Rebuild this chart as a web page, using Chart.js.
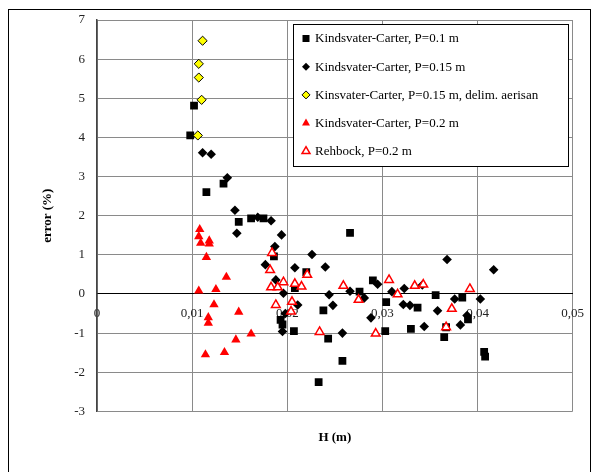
<!DOCTYPE html>
<html>
<head>
<meta charset="utf-8">
<title>error (%) vs H (m)</title>
<script src="https://cdn.jsdelivr.net/npm/chart.js@4/dist/chart.umd.min.js"></script>
<style>
  html, body { margin: 0; padding: 0; background: #fff; }
  canvas { display: block; }
</style>
</head>
<body>
<canvas id="c" width="596" height="472" style="width:596px;height:472px"></canvas>
<script>
// Head over the weir H (m) and the relative discharge error (%) for each data set.
const seriesLabels = [
  'Kindsvater-Carter, P=0.1 m',
  'Kindsvater-Carter, P=0.15 m',
  'Kinsvater-Carter, P=0.15 m, delim. aerisan',
  'Kindsvater-Carter, P=0.2 m',
  'Rehbock, P=0.2 m'
];

const kc010H = [0.0098, 0.0102, 0.0115, 0.0133, 0.0149, 0.0162, 0.0175, 0.0186, 0.0193, 0.0195,
  0.0207, 0.0208, 0.0220, 0.0233, 0.0238, 0.0243, 0.0258, 0.0266, 0.0276, 0.0290,
  0.0303, 0.0304, 0.0330, 0.0337, 0.0356, 0.0365, 0.0367, 0.0384, 0.0390, 0.0407, 0.0408];
const kc010Err = [4.05, 4.81, 2.60, 2.82, 1.84, 1.93, 1.93, 0.96, -0.66, -0.78,
  -0.95, 0.15, 0.56, -2.25, -0.42, -1.14, -1.71, 1.56, 0.06, 0.35,
  -0.95, -0.21, -0.89, -0.35, -0.03, -1.10, -0.85, -0.09, -0.65, -1.48, -1.60];

const kc015H = [0.0111, 0.0120, 0.0137, 0.0145, 0.0147, 0.0169, 0.0183, 0.0194, 0.0187, 0.0177,
  0.0188, 0.0196, 0.0198, 0.0195, 0.0208, 0.0211, 0.0226, 0.0240, 0.0244, 0.0248,
  0.0258, 0.0266, 0.0281, 0.0288, 0.0295, 0.0310, 0.0322, 0.0323, 0.0329, 0.0342,
  0.0344, 0.0358, 0.0368, 0.0376, 0.0382, 0.0389, 0.0403, 0.0417];
const kc015Err = [3.61, 3.57, 2.97, 2.14, 1.55, 1.96, 1.87, 1.51, 1.21, 0.75,
  0.36, 0.02, -0.50, -0.96, 0.67, -0.28, 1.01, 0.69, -0.02, -0.29,
  -1.00, 0.07, -0.10, -0.61, 0.25, 0.06, -0.27, 0.14, -0.29, 0.23,
  -0.83, -0.43, 0.88, -0.13, -0.79, -0.55, -0.13, 0.62];

const kc015AerH = [0.0111, 0.0107, 0.0107, 0.0110, 0.0106];
const kc015AerErr = [6.47, 5.88, 5.53, 4.96, 4.05];

const kc020H = [0.0108, 0.0107, 0.0109, 0.0118, 0.0118, 0.0115, 0.0136, 0.0107, 0.0125, 0.0123,
  0.0149, 0.0117, 0.0117, 0.0162, 0.0146, 0.0134, 0.0114];
const kc020Err = [1.65, 1.47, 1.30, 1.36, 1.28, 0.94, 0.43, 0.08, 0.12, -0.27,
  -0.46, -0.60, -0.74, -1.02, -1.17, -1.49, -1.55];

const rehbockH = [0.0184, 0.0182, 0.0221, 0.0196, 0.0183, 0.0190, 0.0208, 0.0215, 0.0205, 0.0188,
  0.0204, 0.0234, 0.0259, 0.0275, 0.0293, 0.0307, 0.0316, 0.0334, 0.0343, 0.0367,
  0.0373, 0.0392];
const rehbockErr = [1.05, 0.61, 0.49, 0.30, 0.17, 0.17, 0.26, 0.19, -0.20, -0.28,
  -0.45, -0.97, 0.21, -0.15, -1.01, 0.36, -0.01, 0.21, 0.24, -0.85,
  -0.38, 0.13];

const hTickLabels = ['0', '0,01', '0,02', '0,03', '0,04', '0,05'];
const errTickLabels = ['-3', '-2', '-1', '0', '1', '2', '3', '4', '5', '6', '7'];
const xTitle = 'H (m)';
const yTitle = 'error (%)';

const pts = (xs, ys) => xs.map((x, i) => ({ x: x, y: ys[i] }));

const FONT = 'Liberation Serif, Times New Roman, serif';

const datasets = [
  { label: seriesLabels[0], data: pts(kc010H, kc010Err), pointStyle: 'rect',
    pointRadius: 5.5, backgroundColor: '#000', borderColor: '#000', borderWidth: 0, order: 5 },
  { label: seriesLabels[1], data: pts(kc015H, kc015Err), pointStyle: 'rectRot',
    pointRadius: 4.8, backgroundColor: '#000', borderColor: '#000', borderWidth: 0, order: 4 },
  { label: seriesLabels[2], data: pts(kc015AerH, kc015AerErr), pointStyle: 'rectRot',
    pointRadius: 4.6, backgroundColor: '#ffff00', borderColor: '#000', borderWidth: 1, order: 3 },
  { label: seriesLabels[3], data: pts(kc020H, kc020Err), pointStyle: 'triangle',
    pointRadius: 5.4, backgroundColor: '#ff0000', borderColor: '#ff0000', borderWidth: 0, order: 2 },
  { label: seriesLabels[4], data: pts(rehbockH, rehbockErr), pointStyle: 'triangle',
    pointRadius: 5, backgroundColor: '#ffffff', borderColor: '#ff0000', borderWidth: 1.5, order: 1 }
];

// White page with the thin outer frame around the whole figure
const framePlugin = {
  id: 'frame',
  beforeDraw(chart) {
    const ctx = chart.ctx;
    ctx.save();
    ctx.fillStyle = '#fff';
    ctx.fillRect(0, 0, chart.width, chart.height);
    ctx.strokeStyle = '#000';
    ctx.lineWidth = 1;
    ctx.strokeRect(8.5, 9.5, 582, 480);
    ctx.restore();
  }
};

function legendMarker(ctx, ds, x, y) {
  ctx.save();
  ctx.fillStyle = ds.backgroundColor;
  ctx.strokeStyle = ds.borderColor;
  ctx.lineWidth = ds.borderWidth || 1;
  ctx.beginPath();
  if (ds.pointStyle === 'rect') {
    ctx.rect(x - 3.5, y - 3.5, 7, 7);
  } else if (ds.pointStyle === 'rectRot') {
    const r = 4;
    ctx.moveTo(x - r, y); ctx.lineTo(x, y - r); ctx.lineTo(x + r, y); ctx.lineTo(x, y + r);
    ctx.closePath();
  } else {
    const r = 4.6;
    ctx.moveTo(x, y - r);
    ctx.lineTo(x + r * 0.866, y + r * 0.5);
    ctx.lineTo(x - r * 0.866, y + r * 0.5);
    ctx.closePath();
  }
  ctx.fill();
  if (ds.borderWidth > 0) ctx.stroke();
  ctx.restore();
}

// Boxed legend sitting inside the plot, upper right
const legendPlugin = {
  id: 'boxLegend',
  afterDatasetsDraw(chart) {
    const ctx = chart.ctx;
    const left = 293.5, top = 24.5, w = 275, h = 142;
    ctx.save();
    ctx.fillStyle = '#fff';
    ctx.fillRect(left, top, w, h);
    ctx.strokeStyle = '#000';
    ctx.lineWidth = 1;
    ctx.strokeRect(left, top, w, h);
    ctx.font = '13px ' + FONT;
    ctx.textBaseline = 'middle';
    ctx.textAlign = 'left';
    chart.data.datasets.forEach((ds, i) => {
      const cy = 38.5 + i * 28.2;
      legendMarker(ctx, ds, 306, cy);
      ctx.fillStyle = '#000';
      ctx.fillText(ds.label, 315, cy + 0.5);
    });
    ctx.restore();
  }
};

new Chart(document.getElementById('c'), {
  type: 'scatter',
  data: { datasets: datasets },
  plugins: [framePlugin, legendPlugin],
  options: {
    responsive: false,
    animation: false,
    devicePixelRatio: 1,
    layout: { padding: { left: 36, top: 20, right: 21, bottom: 27 } },
    plugins: {
      legend: { display: false },
      tooltip: { enabled: false },
      title: {
        display: true,
        text: xTitle,
        position: 'bottom',
        fullSize: false,
        color: '#000',
        font: { family: FONT, size: 13, weight: 'bold' },
        padding: { top: 18, bottom: 0 }
      }
    },
    scales: {
      x: {
        type: 'linear',
        position: { y: 0 },
        min: 0,
        max: 0.05,
        ticks: {
          stepSize: 0.01,
          autoSkip: false,
          maxRotation: 0,
          padding: 12,
          color: '#222',
          font: { family: FONT, size: 13 },
          callback: (v, i) => hTickLabels[i]
        },
        grid: { color: '#8a8a8a', lineWidth: 1, drawTicks: false },
        border: { color: '#000', width: 1 }
      },
      y: {
        type: 'linear',
        min: -3,
        max: 7,
        ticks: {
          stepSize: 1,
          padding: 12,
          color: '#222',
          font: { family: FONT, size: 13 },
          callback: (v, i) => errTickLabels[i]
        },
        grid: { color: '#8a8a8a', lineWidth: 1, drawTicks: false },
        border: { color: '#444', width: 1.5 },
        title: {
          display: true,
          text: yTitle,
          color: '#000',
          font: { family: FONT, size: 13, weight: 'bold' },
          padding: { top: 4, bottom: 4 }
        },
        afterFit(scale) { scale.width = 61; }
      }
    }
  }
});
</script>
</body>
</html>
